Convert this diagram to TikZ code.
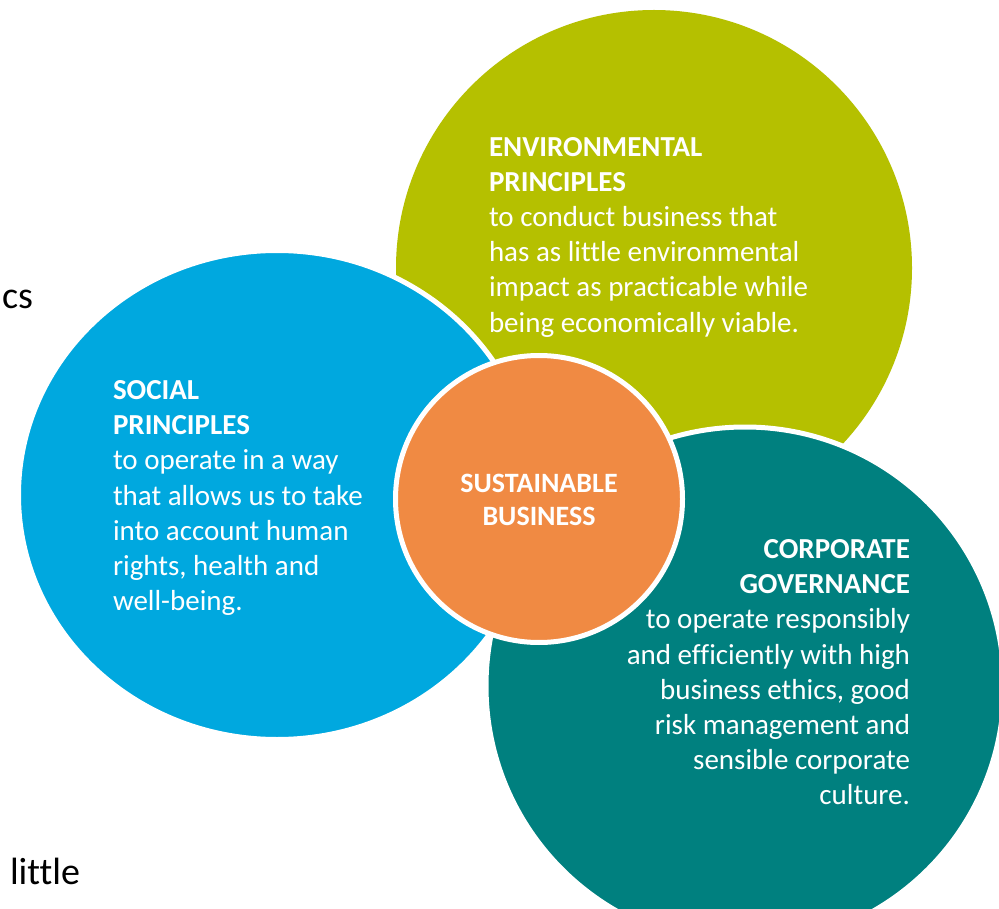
\documentclass[tikz,border=0pt]{standalone}
\usepackage{fontspec}
\usetikzlibrary{shapes.geometric}
\setmainfont{Carlito}[Ligatures=NoCommon]
\definecolor{envgreen}{RGB}{181,192,0}
\definecolor{socblue}{RGB}{0,168,223}
\definecolor{govteal}{RGB}{0,128,127}
\definecolor{coreorange}{RGB}{240,138,67}
\tikzset{
  disc/.style={circle, inner sep=0pt, outer sep=0pt, draw=white, line width=5pt},
  bodytext/.style={text=white, inner sep=0pt, outer sep=0pt,
    font=\fontsize{29}{35.2}\selectfont},
  loosetext/.style={text=black, inner sep=0pt, outer sep=0pt,
    font=\fontsize{38}{46}\selectfont}
}
\begin{document}
\begin{tikzpicture}[x=1pt,y=-1pt]
\useasboundingbox (0,0) rectangle (999,909);
\clip (0,0) rectangle (999,909);
\fill[white] (0,0) rectangle (999,909);

% the four discs, back to front
\node[disc, draw=none, fill=envgreen, minimum size=516pt] (env) at (654,268) {};
\node[disc, fill=govteal, minimum size=518pt] (gov) at (745,686) {};
\node[disc, ellipse, fill=socblue, minimum width=517pt, minimum height=489pt] (soc) at (277,495) {};
\node[disc, fill=coreorange, minimum size=287pt] (core) at (539,499) {};

% texts of the discs
\node[bodytext, anchor=north west, align=left] (envtext) at (489,137)
  {{\bfseries ENVIRONMENTAL}\\{\bfseries PRINCIPLES}\\to conduct business that\\
   has as little environmental\\impact as practicable while\\being economically viable.};
\node[bodytext, anchor=north west, align=left] (soctext) at (113,380.5)
  {{\bfseries SOCIAL}\\{\bfseries PRINCIPLES}\\to operate in a way\\that allows us to take\\
   into account human\\rights, health and\\well-being.};
\node[bodytext, anchor=north east, align=right] (govtext) at (910,539.5)
  {{\bfseries CORPORATE}\\{\bfseries GOVERNANCE}\\to operate responsibly\\
   and efficiently with high\\business ethics, good\\risk management and\\
   sensible corporate\\culture.};
\node[bodytext, anchor=north, align=center,
      font=\fontsize{28}{33.5}\selectfont\bfseries] (coretext) at (539,474)
  {SUSTAINABLE\\BUSINESS};

% stray words of the surrounding page
\node[loosetext, anchor=base west] (cs) at (2,309) {cs};
\node[loosetext, anchor=base west] (little) at (10,884) {little};
\end{tikzpicture}
\end{document}
